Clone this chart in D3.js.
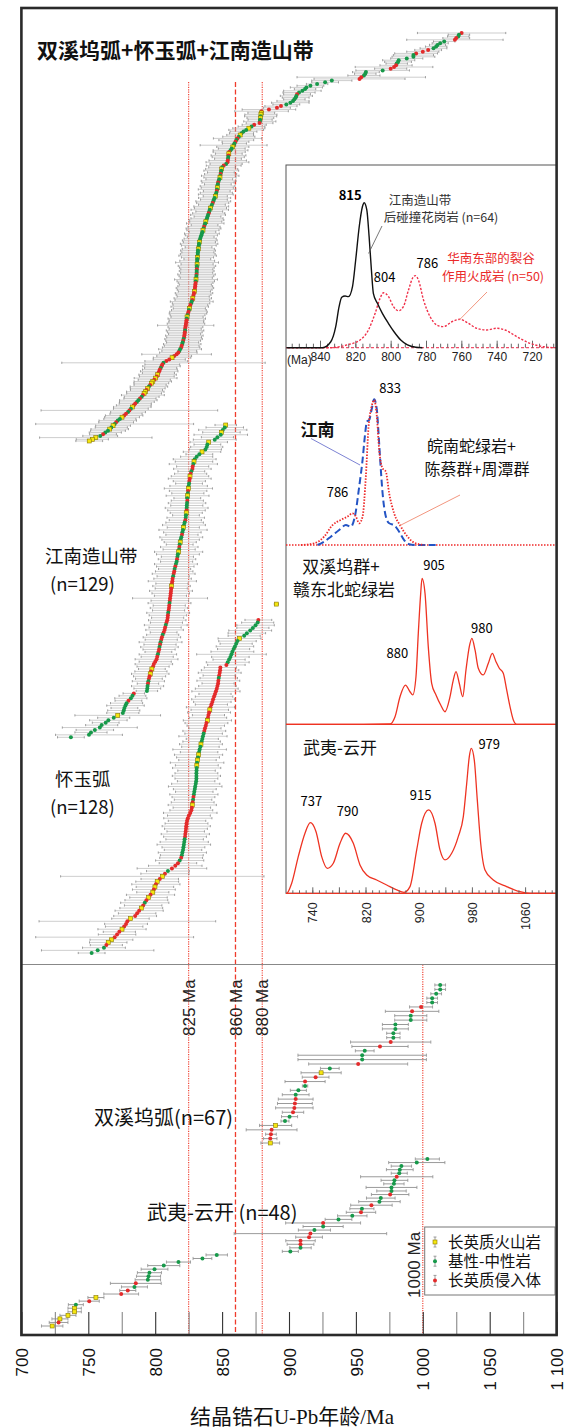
<!DOCTYPE html>
<html><head><meta charset="utf-8">
<script src="https://cdn.jsdelivr.net/npm/d3@7"></script>
<style>
html,body{margin:0;padding:0;background:#fff;}
svg{display:block;}
text{font-family:"Noto Sans CJK SC","Noto Sans",sans-serif;}
</style></head><body>
<svg id="chart" width="568" height="1428"></svg>
<script>
// ---------- zircon U-Pb ages (Ma), sorted rows, with 2σ errors and rock types ----------
// rock types: Y = 长英质火山岩, G = 基性-中性岩, R = 长英质侵入体
const combinedAges = [
1029,1027,1026.5,1025,1024,1016,1013,1011,1010,1008,
1004,1000,995,993,993,988,982,981.5,980.5,980,
978.5,976,970,957.5,957,956,954,952.7,932,927,
921,916,913,912,910,907.5,906,905.5,905,904,
903,901,898,894,891,885,879.5,879.3,879,878.8,
878.6,878.4,878.2,878,874,872,870,868,866,864.5,
863.5,862.5,861.5,860.6,860,859.2,858.6,858,857.2,856.3,
855.3,855,854.8,854.6,854.4,854.2,854,853,851.2,850,
849.7,849.4,849.1,848.9,848.6,848.4,847.9,847.4,847,846.8,
846.6,846.4,846.2,846,845.7,845.3,844.9,844.4,843.9,843.4,
843,842.4,841.9,841.3,840.8,840.4,840,839.5,839.1,838.7,
838.3,837.8,837.4,836.9,836.5,836.1,835.7,835.3,834.9,834.5,
834,833.6,833.3,833,832.8,832.6,832.4,832.2,832,831.9,
831.8,831.7,831.6,831.5,831.4,831.3,831.3,831.2,831.1,831.1,
831,831,830.9,830.8,830.7,830.5,830.3,830.2,830,829.9,
829.7,829.5,829.3,829,828.7,828.4,828.1,827.8,827.3,826.8,
826.3,825.8,825.5,825.2,824.9,824.5,824.2,823.8,823.6,823.4,
823.2,823,822.8,822.6,822.4,822.3,822.1,822,821.8,821.6,
821.2,820.9,820.5,820.2,819.8,819.4,818.6,818,817.3,816,
814.2,812.6,810.5,808.3,806.2,805.3,804.7,804.1,803.5,803,
802.4,801.8,801.2,800.3,799.3,798.2,797.1,796.2,795.3,794.4,
793.5,792.6,791.7,790.8,789.9,788.6,787.4,786.3,785.1,784,
782.9,781.8,780.7,779.7,778.2,776.8,775.2,773.6,772,770.8,
769.7,768.5,767.2,766,764.7,762.7,761,758.9,755.6,753,
750.7];
const combinedErrors = [
33,8,8,10,36,8,6,6,8,10, 10,12,16,15,16,12,12,10,8,12,
29,12,20,10,8,12,48,34,15,10, 8,10,12,8,14,12,10,12,10,8,
12,14,10,12,10,20,20,10,12,12, 10,9,12,10,9,10,12,13,10,9,
10,12,18,13,10,9,25,12,10,13, 12,10,13,12,10,14,16,12,13,10,
12,13,10,12,14,12,10,13,12,10, 13,12,14,10,12,13,9,12,10,13,
12,10,13,12,14,10,12,13,10,12, 13,12,14,10,12,13,12,10,13,12,
10,12,13,12,14,13,10,12,13,12, 13,14,12,10,13,16,12,14,13,12,
13,12,14,13,12,16,14,13,12,13, 14,13,12,14,13,12,14,13,16,14,
13,14,12,13,14,14,13,12,14,13, 13,14,21,13,12,14,13,12,14,13,
14,13,12,14,13,14,16,13,14,26, 13,14,12,16,76,13,14,12,13,14,
12,14,13,16,12,14,13,12,14,13, 12,14,13,16,13,12,14,13,12,13,
14,13,66,13,12,14,13,12,14,13, 59,13,12,14,13,12,10,13,42,12,
10];
const combinedTypes = ("RGGRRGGGGGRRRGGGGGGRRRGGGGRRGGGGGGGGRGGGGGGRRRRYYG" +
  "YGGRRGYGGGYGRGRGGYGGRYRGGRRGRGYGGRGYGGRGGYGRGGYGGG" +
  "RGGYGGRGGGGYGGRGYGGGGGGYGGGYGGGGYGGGYGGRGGRGGYGRRR" +
  "RRYRRRYRGGRRYGRRGYGRRRRRRGRRRRGRGGRRGGRRRYRRGRRGRR" +
  "RYRYRYYRGYRYYRGRGGRRYGRGRRYGGRGYGYGGRGYYY").split("");

const jiangnanAges = [
852.7,852,850.5,849.5,849,846.5,844.5,840,839,838.5,
837.5,835,833,831,829.5,829,828.5,828,827.8,827,
826.5,826,825.8,825.5,825.3,825,824.8,824.6,824.4,824.2,
824,824,823.8,823.6,823.5,823.4,823.2,823,822.8,822.5,
822,821.5,821,820.8,820.3,820,819.5,819,818.7,818.3,
818,817.9,817.5,817,816.6,816.3,816,815.5,815,814.5,
814.2,813.8,813.4,813,812.8,812.5,812.2,812,811.8,811.6,
811.4,811.1,810.9,810.7,810.5,810.3,810,809.7,809.5,809.3,
809,808.4,807.9,807.4,807,806.3,805.6,805,804.5,804,
803.6,803.2,802.9,802.4,802,801.5,801,800,799,798.4,
797.5,796.8,796.3,795.8,795.3,794.9,794.6,794.3,794.1,793.8,
784,783,781.8,780,778.6,777.8,777,776.5,775.8,772,
769,765,763,760,758.6,754.9,752,750.5,737];
const jiangnanErrors = [
8,14,18,14,20,12,16,14,10,12, 12,14,10,12,16,14,18,12,14,10,
12,14,16,12,10,14,18,14,12,16, 10,12,14,12,16,14,12,10,14,12,
14,16,12,18,14,12,16,14,12,10, 14,12,18,16,12,14,12,16,14,12,
14,16,12,14,18,12,14,12,16,14, 12,28,14,16,12,14,12,16,14,12,
14,12,16,12,14,10,12,14,12,16, 12,14,12,10,14,12,16,12,14,12,
10,12,14,12,10,12,8,12,10,8, 8,10,12,10,12,14,10,12,12,32,
12,14,10,12,28,14,12,25,10];
const jiangnanTypes = ("YGGYGGGYGGGYGGGYGRRGRYRRGGYRGYGRGGGRYGGRGGYGGRGGYG" +
  "RGYGGRGGRGRRGRRRYRRRRRRGRRRGRRRRGRRRGRRGRGRRGRRRRR" +
  "YRYRRGRGGGRGGRGGGGGYGGGGGGGGG").split("");

// first row: isolated analysis above the main trend; empty rows keep its spacing
const huaiyuAges = [890.5,null,null,null,null,null,
877.1,876.6,875,873,871,868.5,866.5,863,861.5,860.5,
859.6,858.6,857.7,857,856.2,855.2,854.2,853.2,848.7,848.5,
848.2,847.8,847.5,847.2,847,846.5,846,845.4,844.7,844,
843.3,842.7,842,841.3,840.8,840.3,839.8,839.4,839,838.3,
837.8,837.2,836.7,836.2,835.7,835.2,834.7,834.2,833.8,833.2,
832.8,832.4,832,831.6,831.3,831.1,831,830.9,830.8,830.8,
830.8,830.6,830.3,829.9,829.6,829.2,828.9,828.6,828.3,828,
827.7,827.4,827,826.2,825.2,824.4,823.8,823.4,823.2,823,
822.8,822.5,822.3,822,821.7,821.4,821.1,820.8,820.3,819.9,
819.4,818.3,817,815,812.5,809.5,807.3,805.3,803.4,801.5,
800.5,799.8,799,798.2,796.5,795,793.4,792.2,791,789.6,
788,786.5,785,781.5,779.2,778.2,776.8,775.2,773.2,771.5,
769.7,767.3,764.9,763.5,761.7,757,752.5];
const huaiyuErrors = [1.5,0,0,0,0,0,
10,12,14,12,16,14,12,16,14,12, 14,12,16,26,14,12,16,14,12,14,
16,12,14,16,12,14,16,18,12,14, 16,14,12,18,14,16,12,14,18,16,
14,12,16,14,18,12,14,16,14,20, 14,18,16,14,20,16,18,14,16,18,
16,14,18,20,16,14,18,16,14,16, 18,14,16,20,16,18,14,16,18,16,
14,18,16,14,18,20,16,14,18,16, 16,18,14,20,26,16,18,76,14,16,
18,14,16,12,18,14,16,18,14,16, 18,14,16,14,66,16,14,18,12,14,
59,16,14,12,16,42,10];
const huaiyuTypes = ("Y-----" +
  "RGGGGGGYGGGGGGGGGRRRRRGRRRRRRRRRRRYRRRYRRRRGGGGYGG" +
  "GYGYGYGGGGGGGGGGGRGRYRRRRRRRRRRRRGGGGGGGRGRRRGRYRY" +
  "RYRYRYRGRYRRRYRRRYRRRYYRGGG").split("");

const shuangxiwuAges = [1013,1013,1010,1007,1007,998.7,992,991,991,979.5,
979.5,978,978,976,968,956.6,954.7,954.7,951.7,930.5,
924,919.9,912,912,907,905,905,904.4,904,903,
900.4,897,890,887,886.5,886,886];
const shuangxiwuErrors = [4,4,4,4,4,8.6,20,12,12,9.7, 9.7,5,5,30,21,7,48,48,37,7,
15,10,15,2,6,10,13,13,14,8, 6,3,12,19,4,5,7];
const shuangxiwuTypes = "GGGGGRRGGGGGGRRGGGRGYRRGGGRRRRGGYRRRY".split("");

const wuyiAges = [1003.4,995.5,984,982.8,982.4,980.5,978.8,978.4,976.6,976.6,
975.6,968.6,967.6,961.6,954.5,953.8,947.3,937,925.5,925.5,
919,916,915,908.6,908.6,908.6,901,
846,835.3,817.4,806.4,799.5,795.7,795,794.5,785.5,784.5,
779.5,774.6,755.7,750.7,740.7,739.8,739.8,734.8,728.8,727.8,723];
const wuyiErrors = [9,21,7.6,10,6,27,10,7.6,19,11, 14,10.7,15.5,15.5,9,11,11,10,28,15,
12,57,10,11,10,8,6,
8,7,9,12,10,9,9,9.5,19,9.7, 6,13,6,7.5,5.6,5,5,6,6,7,8];
const wuyiTypes = ("GGGGGRGGGGRGGRGRGGRGGRRRRGG" + "GGGGGGGGRGRRYRGYYYYRY").split("");

// reference ages (Ma)
const refLines = [825, 860, 880];
const refLineLabels = ["825 Ma", "860 Ma", "880 Ma"];
const refLine2 = 1000;
const xTicksMajor = [700, 750, 800, 850, 900, 950, 1000, 1050, 1100];
const xTicksMinor = [725, 775, 825, 875, 925, 975, 1025, 1075];

const legendLabels = ["长英质火山岩", "基性-中性岩", "长英质侵入体"];
const legendTypes = ["Y", "G", "R"];

// ---------- age-probability curves (inset) ----------
// (1) 江南造山带后碰撞花岗岩 (black) vs 华南东部裂谷作用火成岩 (red)
const granAges = [859,846,838.6,833.9,831.1,829.2,827.7,825.8,823.9,821.6,819.8,817.8,816,815,813.5,812.2,810.9,809.8,807.5,804.7,801.3,798.1,794.3,790.5,785.8,782];
const granDensity = [0,0,0,0.041,0.145,0.283,0.348,0.357,0.352,0.421,0.605,0.834,0.972,1,0.95,0.766,0.536,0.375,0.306,0.237,0.168,0.110,0.053,0.019,0.003,0];
const riftAges = [858,834.3,824.8,817.3,812.6,808.8,806,804,801.2,798.4,795.6,792.8,789.9,787.1,786,784.3,781.4,777.7,773.9,770.1,765.4,760.7,756,751.3,745.6,740,735.3,728.6,721.1,713.5,706,697];
const riftDensity = [0,0,0.019,0.053,0.122,0.237,0.341,0.379,0.352,0.283,0.255,0.283,0.398,0.49,0.497,0.467,0.329,0.214,0.157,0.145,0.179,0.196,0.168,0.134,0.122,0.134,0.122,0.076,0.030,0.007,0,0];
// (2) 江南 (blue) vs 皖南蛇绿岩+陈蔡群+周潭群 (red)
const jnAges = [747.9,757.8,767.9,780.4,790.5,798,804,810.5,815.6,819,822.1,825.5,829.1,833,837.1,839.6,842.1,845.7,850.6,855.6,863.1,870.6,878.1,885.7,893.2,928.3];
const jnDensity = [0,0.023,0.057,0.103,0.137,0.126,0.195,0.4,0.584,0.744,0.847,0.858,0.927,1,0.927,0.766,0.584,0.355,0.195,0.149,0.137,0.091,0.034,0.005,0,0];
const wnAges = [722.8,742.8,757.8,770.5,783,793,800.5,805.5,810.5,815.6,820.5,824.6,829.1,833,837.1,840.6,845.7,850.6,855.6,863.1,873.2,883.3,893.2,908.2];
const wnDensity = [0,0.012,0.057,0.137,0.172,0.195,0.217,0.195,0.149,0.195,0.469,0.812,0.949,0.995,0.881,0.652,0.526,0.503,0.355,0.217,0.126,0.057,0.016,0];
// (3) 双溪坞群+赣东北蛇绿岩
const sxAges = [700,816.7,856.8,864.4,871.9,880,886.9,891,895.9,899.4,903,905,909.5,914.4,919.5,926,933.1,939.5,947.1,952,956.1,961,966.2,971.1,976.1,980,984.7,989.6,997.1,1004.7,1010.7,1016.2,1021.2,1027.2,1032.3,1037.3,1042.3,1047.4,1106];
const sxDensity = [0,0,0.002,0.052,0.189,0.269,0.223,0.201,0.326,0.623,0.897,1,0.897,0.532,0.281,0.201,0.132,0.086,0.189,0.303,0.361,0.281,0.189,0.372,0.532,0.589,0.509,0.384,0.338,0.418,0.486,0.429,0.384,0.349,0.235,0.121,0.030,0,0];
// (4) 武夷-云开
const wyAges = [700,701.5,709,718.9,729,737,745.6,754.1,762.6,771.6,781.7,790,801.7,811.7,821.8,836.8,851.9,866.9,877.9,886.9,897,904.5,915,924.5,932,939.5,949.6,959.5,967.1,972.2,976.1,979,983.6,988.1,993.2,999.7,1012.2,1032.3,1052.3,1067.4,1106];
const wyDensity = [0,0,0.069,0.253,0.414,0.487,0.425,0.253,0.172,0.207,0.345,0.414,0.345,0.196,0.126,0.092,0.057,0.023,0.007,0.046,0.299,0.483,0.575,0.483,0.299,0.230,0.276,0.391,0.529,0.759,0.943,1,0.919,0.644,0.345,0.161,0.092,0.046,0.011,0,0];

// ---------- drawing ----------
const svg = d3.select("#chart");
svg.append("rect").attr("width", 568).attr("height", 1428).attr("fill", "#fff");

const frame = {left: 21.4, right: 556.6, top: 8, bottom: 1335, split: 964.5};
const x = d3.scaleLinear().domain([700, 1100]).range([frame.left, frame.right]);
const COLORS = {G: "#17994a", R: "#e32b2b", Y: "#f4e610"};
const LATIN = "'Liberation Sans', Arial, sans-serif";

// multi-line text block: one <text>, one <tspan> per line
function block(g, xs, y0, lines, lh, opts = {}) {
  const xAt = i => (Array.isArray(xs) ? xs[i] : xs);
  const t = g.append("text").attr("x", xAt(0)).attr("y", y0);
  if (opts.anchor) t.attr("text-anchor", opts.anchor);
  if (opts.size) t.style("font-size", opts.size);
  if (opts.fill) t.attr("fill", opts.fill);
  lines.forEach((s, i) => {
    t.append("tspan").attr("x", xAt(i)).attr("y", y0 + i * lh).text(s);
  });
  return t;
}

// reference lines
const refG = svg.append("g");
refLines.forEach((v, i) => {
  refG.append("line")
    .attr("x1", x(v)).attr("x2", x(v)).attr("y1", 82).attr("y2", frame.bottom)
    .attr("stroke", "#ef3b2c").attr("stroke-width", v === 860 ? 1.3 : 1.1)
    .attr("stroke-dasharray", v === 860 ? "5,2.5" : "1.2,1.2");
  refG.append("text")
    .attr("transform", `translate(${x(v)},1036) rotate(-90)`)
    .attr("text-anchor", "start").attr("dy", "0.36em")
    .style("font-family", LATIN).style("font-size", "17px").attr("fill", "#222")
    .text(refLineLabels[i]);
});
refG.append("line")
  .attr("x1", x(refLine2)).attr("x2", x(refLine2)).attr("y1", frame.split).attr("y2", frame.bottom)
  .attr("stroke", "#ef3b2c").attr("stroke-width", 1.1).attr("stroke-dasharray", "1.2,1.2");
refG.append("text")
  .attr("transform", `translate(${x(refLine2) - 9},1298) rotate(-90)`)
  .attr("text-anchor", "start").attr("dy", "0.36em")
  .style("font-family", LATIN).style("font-size", "17px").attr("fill", "#222")
  .text("1000 Ma");

// sorted-age series with error bars
function drawSeries(ages, errs, types, yTop, yBottom, st) {
  const y = d3.scaleLinear().domain([0, ages.length - 1]).range([yTop, yBottom]);
  const rows = ages.map((a, i) => ({age: a, err: errs[i], type: types[i], i}))
    .filter(d => d.age != null);
  const g = svg.append("g");
  g.selectAll("line").data(rows).join("line")
    .attr("x1", d => x(d.age - d.err)).attr("x2", d => x(d.age + d.err))
    .attr("y1", d => y(d.i)).attr("y2", d => y(d.i))
    .attr("stroke", st.bar).attr("stroke-width", st.bw);
  g.selectAll("path.cap").data(rows.filter(d => d.err > 1)).join("path").attr("class", "cap")
    .attr("d", d => `M${x(d.age - d.err)},${y(d.i) - st.cap}V${y(d.i) + st.cap}` +
                    `M${x(d.age + d.err)},${y(d.i) - st.cap}V${y(d.i) + st.cap}`)
    .attr("stroke", st.capColor || st.bar).attr("stroke-width", 0.8).attr("fill", "none");
  rows.forEach(d => {
    if (d.type === "Y") {
      g.append("rect")
        .attr("x", x(d.age) - st.r).attr("y", y(d.i) - st.r)
        .attr("width", st.r * 2).attr("height", st.r * 2)
        .attr("fill", COLORS.Y).attr("stroke", "#8a7800").attr("stroke-width", 0.6);
    } else {
      g.append("circle").attr("cx", x(d.age)).attr("cy", y(d.i)).attr("r", st.r)
        .attr("fill", COLORS[d.type] || COLORS.G);
    }
  });
}

const denseStyle = {bar: "#b8b8b8", bw: 0.7, cap: 1.1, r: 2, capColor: "#8a8a8a"};
const sparseStyle = {bar: "#8e8e8e", bw: 0.9, cap: 1.6, r: 2};
drawSeries(combinedAges, combinedErrors, combinedTypes, 33, 441, denseStyle);
drawSeries(jiangnanAges, jiangnanErrors, jiangnanTypes, 425, 737.3, denseStyle);
drawSeries(huaiyuAges, huaiyuErrors, huaiyuTypes, 604.1, 953, denseStyle);
drawSeries(shuangxiwuAges, shuangxiwuErrors, shuangxiwuTypes, 985, 1143, sparseStyle);
drawSeries(wuyiAges, wuyiErrors, wuyiTypes, 1159, 1326, sparseStyle);

// group labels
const labelG = svg.append("g").attr("fill", "#111").style("font-size", "20px");
labelG.append("text").attr("x", 37).attr("y", 58).style("font-size", "21px").style("font-weight", 600)
  .text("双溪坞弧+怀玉弧+江南造山带");
block(labelG, [45, 50], 563, ["江南造山带", "(n=129)"], 27.5, {size: "18.5px"});
block(labelG, [55, 50], 786, ["怀玉弧", "(n=128)"], 28, {size: "18.5px"});
labelG.append("text").attr("x", 94).attr("y", 1125).text("双溪坞弧(n=67)");
labelG.append("text").attr("x", 147).attr("y", 1220).text("武夷-云开 (n=48)");

// ---------- inset ----------
const inset = {left: 286, top: 165, right: frame.right, bottom: 893.3};
svg.append("rect").attr("x", inset.left).attr("y", inset.top)
  .attr("width", inset.right - inset.left).attr("height", inset.bottom - inset.top)
  .attr("fill", "#fff").attr("stroke", "#555").attr("stroke-width", 1);
svg.append("clipPath").attr("id", "insetClip").append("rect")
  .attr("x", inset.left).attr("y", inset.top)
  .attr("width", inset.right - inset.left).attr("height", inset.bottom - inset.top + 1);
const ins = svg.append("g").attr("clip-path", "url(#insetClip)");

function curve(g, ages, dens, xs, ys, stroke, width, dash) {
  const pts = ages.map((a, i) => [xs(a), ys(dens[i])]).sort((p, q) => p[0] - q[0]);
  g.append("path").datum(pts)
    .attr("d", d3.line().curve(d3.curveMonotoneX))
    .attr("fill", "none").attr("stroke", stroke).attr("stroke-width", width)
    .attr("stroke-dasharray", dash || null).attr("stroke-linejoin", "round");
}

// panel 1 (reversed age axis)
const x1 = d3.scaleLinear().domain([840, 720]).range([320, 532]);
const y1 = d3.scaleLinear().domain([0, 1]).range([347.7, 202.7]);
ins.append("line").attr("x1", inset.left).attr("x2", inset.right).attr("y1", y1(0)).attr("y2", y1(0))
  .attr("stroke", "#f0506a").attr("stroke-width", 1.2).attr("stroke-dasharray", "3,2");
const a1min = ins.append("g").attr("transform", `translate(0,${y1(0)})`)
  .call(d3.axisBottom(x1).tickValues(d3.range(856, 706, -4)).tickSize(-4).tickFormat(""));
const a1maj = ins.append("g").attr("transform", `translate(0,${y1(0)})`)
  .call(d3.axisBottom(x1).tickValues(d3.range(840, 719, -20)).tickSize(-7).tickPadding(5));
[a1min, a1maj].forEach(a => { a.select(".domain").remove(); a.selectAll(".tick line").attr("stroke", "#666"); });
a1maj.selectAll(".tick text").style("font-family", LATIN).style("font-size", "12px").attr("fill", "#222");
ins.append("text").attr("x", 287).attr("y", 363.5).style("font-family", LATIN).style("font-size", "12px")
  .attr("fill", "#222").text("(Ma)");
curve(ins, riftAges, riftDensity, x1, y1, "#f0304a", 1.4, "2.2,1.6");
curve(ins, granAges, granDensity, x1, y1, "#111", 1.4);
const t1 = ins.append("g").style("font-family", LATIN).attr("text-anchor", "middle");
t1.append("text").attr("x", x1(815) - 14).attr("y", 200).style("font-size", "13px").style("font-weight", 600).text("815");
t1.append("text").attr("x", x1(804) + 1).attr("y", 282).style("font-size", "13px").text("804");
t1.append("text").attr("x", x1(786) + 12).attr("y", 268).style("font-size", "13px").text("786");
const n1 = ins.append("g").style("font-size", "12.5px");
block(n1, [420, 441], 205, ["江南造山带", "后碰撞花岗岩 (n=64)"], 17, {anchor: "middle", fill: "#333"});
block(n1, [491, 493], 263, ["华南东部的裂谷", "作用火成岩 (n=50)"], 18, {anchor: "middle", fill: "#ea2a2a"});
ins.append("line").attr("x1", 382).attr("y1", 226).attr("x2", x1(812.5)).attr("y2", y1(0.65))
  .attr("stroke", "#555").attr("stroke-width", 0.8);
ins.append("line").attr("x1", 487).attr("y1", 292).attr("x2", x1(761)).attr("y2", y1(0.2) + 1)
  .attr("stroke", "#f08a70").attr("stroke-width", 0.9);

// panels 2–4 share one age axis
const xk = d3.scaleLinear().domain([700, 1060]).range([285.7, 525.1]);
const y2 = d3.scaleLinear().domain([0, 1]).range([545, 399.3]);
const y3 = d3.scaleLinear().domain([0, 1]).range([724.3, 578.3]);
const y4 = d3.scaleLinear().domain([0, 1]).range([893.3, 748.3]);

// panel 2
ins.append("line").attr("x1", inset.left).attr("x2", inset.right).attr("y1", y2(0)).attr("y2", y2(0))
  .attr("stroke", "#ee2a2a").attr("stroke-width", 1.6).attr("stroke-dasharray", "1.5,1.5");
curve(ins, jnAges, jnDensity, xk, y2, "#2454c4", 2, "7,3.5");
curve(ins, wnAges, wnDensity, xk, y2, "#ee2a2a", 1.8, "1.5,1.5");
const t2 = ins.append("g").style("font-family", LATIN).attr("text-anchor", "middle").style("font-size", "13px");
t2.append("text").attr("x", xk(833) + 16).attr("y", 393).text("833");
t2.append("text").attr("x", 337.5).attr("y", 497).text("786");
const n2 = ins.append("g").attr("fill", "#111");
n2.append("text").attr("x", 317.5).attr("y", 436).attr("text-anchor", "middle")
  .style("font-size", "17px").style("font-weight", 600).text("江南");
block(n2, [471.5, 477], 452, ["皖南蛇绿岩+", "陈蔡群+周潭群"], 23, {anchor: "middle", size: "16px"});
ins.append("line").attr("x1", 311).attr("y1", 438.5).attr("x2", 360).attr("y2", 465)
  .attr("stroke", "#5a62c8").attr("stroke-width", 0.8);
ins.append("line").attr("x1", 460).attr("y1", 495).attr("x2", 400).attr("y2", 525.5)
  .attr("stroke", "#f08a70").attr("stroke-width", 0.9);

// panel 3
ins.append("line").attr("x1", inset.left).attr("x2", inset.right).attr("y1", y3(0)).attr("y2", y3(0))
  .attr("stroke", "#ee3322").attr("stroke-width", 1.2);
curve(ins, sxAges, sxDensity, xk, y3, "#ee3322", 1.3);
const t3 = ins.append("g").style("font-family", LATIN).attr("text-anchor", "middle").style("font-size", "13px");
t3.append("text").attr("x", xk(905) + 12).attr("y", 570).text("905");
t3.append("text").attr("x", xk(880) - 8).attr("y", 658).text("880");
t3.append("text").attr("x", xk(980) + 10).attr("y", 633).text("980");
block(ins.append("g").attr("fill", "#111"), [341, 344], 573, ["双溪坞群+", "赣东北蛇绿岩"], 23,
  {anchor: "middle", size: "17px"});

// panel 4
ins.append("line").attr("x1", inset.left).attr("x2", inset.right).attr("y1", y4(0)).attr("y2", y4(0))
  .attr("stroke", "#ee3322").attr("stroke-width", 1.3);
curve(ins, wyAges, wyDensity, xk, y4, "#ee3322", 1.3);
const t4 = ins.append("g").style("font-family", LATIN).attr("text-anchor", "middle").style("font-size", "13px");
t4.append("text").attr("x", xk(737) + 1).attr("y", 806).text("737");
t4.append("text").attr("x", xk(790) + 2).attr("y", 816).text("790");
t4.append("text").attr("x", xk(915) - 8).attr("y", 800).text("915");
t4.append("text").attr("x", xk(979) + 18).attr("y", 749).text("979");
ins.append("text").attr("x", 303).attr("y", 754).attr("fill", "#111").style("font-size", "17px").text("武夷-云开");
const a4min = svg.append("g").attr("transform", `translate(0,${y4(0)})`)
  .call(d3.axisBottom(xk).tickValues(d3.range(710, 1101, 10).filter(v => xk(v) < inset.right - 2)).tickSize(-3).tickFormat(""));
const a4maj = svg.append("g").attr("transform", `translate(0,${y4(0)})`)
  .call(d3.axisBottom(xk).tickValues(d3.range(740, 1061, 40)).tickSize(-6)
    .tickFormat(v => ((v - 740) % 80 === 0 ? String(v) : "")));
[a4min, a4maj].forEach(a => { a.select(".domain").remove(); a.selectAll(".tick line").attr("stroke", "#666"); });
a4maj.selectAll(".tick text")
  .attr("transform", "rotate(-90)").attr("text-anchor", "end").attr("x", -9).attr("y", 0).attr("dy", "0.36em")
  .style("font-family", LATIN).style("font-size", "12.5px").attr("fill", "#222");

// ---------- legend ----------
const lg = svg.append("g");
lg.append("rect").attr("x", 424.7).attr("y", 1227).attr("width", 130.3).attr("height", 68)
  .attr("fill", "#fff").attr("stroke", "#777").attr("stroke-width", 1);
const legendY = legendTypes.map((t, i) => 1242 + i * 19.2);
legendTypes.forEach((t, i) => {
  const cy = legendY[i];
  lg.append("path").attr("d", `M435,${cy - 5}V${cy + 5}M433.5,${cy - 5}H436.5M433.5,${cy + 5}H436.5`)
    .attr("stroke", "#888").attr("stroke-width", 0.8).attr("fill", "none");
  if (t === "Y") {
    lg.append("rect").attr("x", 433).attr("y", cy - 2).attr("width", 4).attr("height", 4)
      .attr("fill", COLORS.Y).attr("stroke", "#8a7800").attr("stroke-width", 0.6);
  } else {
    lg.append("circle").attr("cx", 435).attr("cy", cy).attr("r", 2).attr("fill", COLORS[t]);
  }
});
block(lg, 448, legendY[0] + 5.5, legendLabels, 19.2, {size: "15.5px", fill: "#111"});

// ---------- frame and axis ----------
svg.append("line").attr("x1", frame.left).attr("x2", frame.right).attr("y1", frame.split).attr("y2", frame.split)
  .attr("stroke", "#888").attr("stroke-width", 1.2);

const fmt = v => (v >= 1000 ? "1 " + String(v).slice(1) : String(v));
const axMinor = svg.append("g").attr("transform", `translate(0,${frame.bottom})`)
  .call(d3.axisBottom(x).tickValues(xTicksMinor).tickSize(-23).tickFormat(""));
const axMajor = svg.append("g").attr("transform", `translate(0,${frame.bottom})`)
  .call(d3.axisBottom(x).tickValues(xTicksMajor).tickSize(-23).tickFormat(fmt));
axMinor.select(".domain").remove();
axMajor.select(".domain").remove();
axMinor.selectAll(".tick line").attr("stroke", "#888").attr("stroke-width", 1.1);
axMajor.selectAll(".tick line").attr("stroke", "#333").attr("stroke-width", 1.1);
axMajor.selectAll(".tick text")
  .attr("transform", "rotate(-90)").attr("text-anchor", "end").attr("x", -13).attr("y", 0).attr("dy", "0.36em")
  .style("font-family", LATIN).style("font-size", "17px").attr("fill", "#111");

svg.append("rect").attr("x", frame.left).attr("y", frame.top)
  .attr("width", frame.right - frame.left).attr("height", frame.bottom - frame.top)
  .attr("fill", "none").attr("stroke", "#2a2a2a").attr("stroke-width", 2.6);

svg.append("text").attr("x", 292).attr("y", 1424).attr("text-anchor", "middle")
  .style("font-family", "'Liberation Serif', 'Noto Sans CJK SC', serif").style("font-size", "21px").attr("fill", "#111")
  .text("结晶锆石U-Pb年龄/Ma");
</script>
</body></html>
